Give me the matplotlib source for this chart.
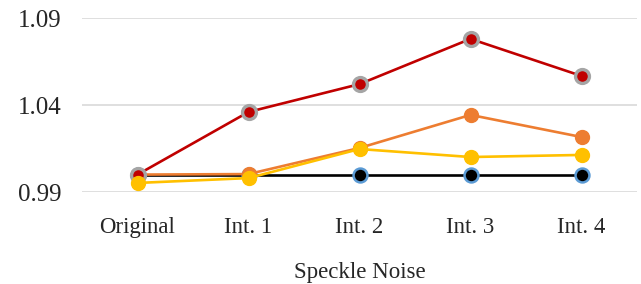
import matplotlib.pyplot as plt

categories = ["Original", "Int. 1", "Int. 2", "Int. 3", "Int. 4"]
baseline = [1.0, 1.0, 1.0, 1.0, 1.0]
red_vals = [1.0, 1.036, 1.052, 1.078, 1.0567]
orange_vals = [1.0, 1.0003, 1.0153, 1.0343, 1.0216]
yellow_vals = [0.9952, 0.998, 1.0147, 1.0101, 1.0113]
yticks = [0.99, 1.04, 1.09]

plt.rcParams["font.family"] = ["Liberation Serif", "DejaVu Serif"]

fig = plt.figure(figsize=(6.41, 2.84), dpi=100)
ax = fig.add_axes([82 / 641, 92 / 284, 555 / 641, 174 / 284])

x = list(range(len(categories)))
lw = 1.9
ms = 10

ax.plot(x, baseline, color="black", lw=lw, marker="o", ms=ms,
        mfc="black", mec="#5B9BD5", mew=1.8, zorder=3)
ax.plot(x, orange_vals, color="#ED7D31", lw=lw, marker="o", ms=ms,
        mfc="#ED7D31", mec="#ED7D31", zorder=4)
ax.plot(x, red_vals, color="#C00000", lw=lw, marker="o", ms=ms,
        mfc="#C00000", mec="#A5A5A5", mew=2.4, zorder=5)
ax.plot(x, yellow_vals, color="#FFC000", lw=lw, marker="o", ms=ms,
        mfc="#FFC000", mec="#FFC000", zorder=6)

ax.set_xlim(-0.5, len(categories) - 0.5)
ax.set_ylim(0.99, 1.09)
ax.set_yticks(yticks)
ax.set_yticklabels([f"{v:.2f}" for v in yticks])
ax.set_xticks(x)
ax.set_xticklabels(categories)
ax.tick_params(length=0, colors="#262626")
ax.tick_params(axis="x", pad=18, labelsize=16.5)
ax.tick_params(axis="y", pad=15, labelsize=18)
ax.grid(axis="y", color="#D9D9D9", lw=1.2)
ax.set_axisbelow(True)
for s in ax.spines.values():
    s.set_visible(False)

ax.set_xlabel("Speckle Noise", fontsize=16.5, color="#262626", labelpad=17)

fig.savefig("out.png", dpi=100)
